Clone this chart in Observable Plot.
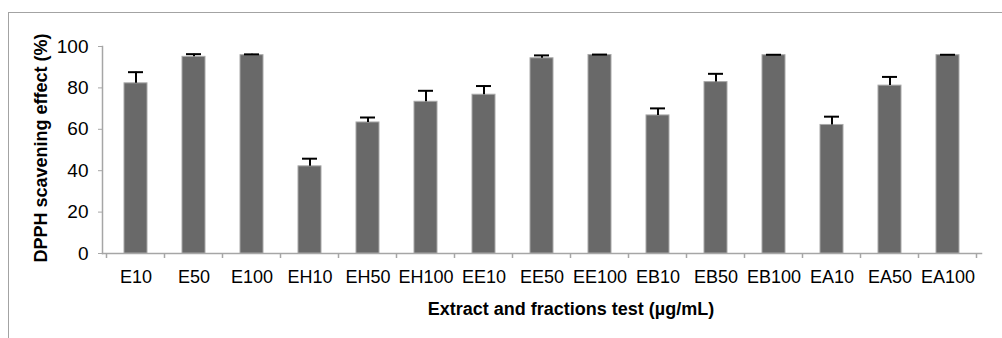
<!DOCTYPE html>
<html>
<head>
<meta charset="utf-8">
<script src="https://cdn.jsdelivr.net/npm/d3@7"></script>
<script src="https://cdn.jsdelivr.net/npm/@observablehq/plot@0.6"></script>
<style>
  html, body { margin: 0; padding: 0; background: #fff; }
  #wrap { position: relative; width: 1002px; height: 338px; overflow: hidden; }
  #border { position: absolute; left: 8px; top: 12px; width: 1100px; height: 400px;
            border-top: 1.5px solid #a3a3a3; border-left: 1.5px solid #a3a3a3; }
  #chart { position: absolute; left: 0; top: 0; }
  svg { font-family: "Liberation Sans", Arial, sans-serif; }
</style>
</head>
<body>
<div id="wrap"><div id="border"></div><div id="chart"></div></div>
<script>
const categories = ["E10","E50","E100","EH10","EH50","EH100","EE10","EE50","EE100","EB10","EB50","EB100","EA10","EA50","EA100"];
const values =     [82.2, 95.0, 95.8, 42.1, 63.3, 73.3, 76.7, 94.3, 95.9, 66.7, 82.8, 95.8, 62.1, 81.1, 95.8];
const errors =     [ 5.4,  1.3,  0.4,  3.7,  2.4,  5.3,  4.2,  1.4,  0.2,  3.4,  4.0,  0.2,  4.0,  4.2,  0.2];
const yTicks = [0, 20, 40, 60, 80, 100];
const xTitle = "Extract and fractions test (µg/mL)";
const yTitle = "DPPH scavening effect (%)";

const data = categories.map((c, i) => ({cat: c, v: values[i], e: errors[i], top: values[i] + errors[i]}));

const W = 1002, H = 338;
const mL = 102, mR = 21, mT = 46, mB = 85;
const axisGray = "#a6a6a6";

const chart = Plot.plot({
  width: W, height: H,
  marginLeft: mL, marginRight: mR, marginTop: mT, marginBottom: mB,
  style: {fontFamily: "'Liberation Sans', Arial, sans-serif", fontSize: "18px", color: "#000", background: "transparent", overflow: "visible"},
  x: {domain: categories, paddingInner: 0.6, paddingOuter: 0.3, align: 0.5, label: null},
  y: {domain: [0, 100], label: null},
  marks: [
    Plot.frame({anchor: "left", stroke: axisGray, strokeWidth: 1.5}),
    Plot.frame({anchor: "bottom", stroke: axisGray, strokeWidth: 1.5}),
    Plot.axisY({ticks: yTicks, tickSize: 4, tickPadding: 10, stroke: axisGray, fill: "#000", fontSize: 19, label: null}),
    Plot.axisX({tickSize: 0, tickPadding: 17, fill: "#000", fontSize: 18, label: null}),
    Plot.barY(data, {x: "cat", y: "v", fill: "#696969", stroke: "#a8a8a8", strokeWidth: 1}),
    Plot.ruleX(data, {x: "cat", y1: "v", y2: "top", stroke: "#000", strokeWidth: 2}),
    Plot.tickY(data, {x: "cat", y: "top", stroke: "#000", strokeWidth: 2, inset: 4}),
    Plot.text([xTitle], {frameAnchor: "bottom", dx: 29, dy: 56, lineAnchor: "middle", fontWeight: "bold", fontSize: 18, fill: "#000"}),
    Plot.text([yTitle], {frameAnchor: "left", rotate: -90, dx: -61, dy: -2, textAnchor: "middle", lineAnchor: "middle", fontWeight: "bold", fontSize: 18, fill: "#000"})
  ]
});

// category boundary tick marks on the x axis (Excel style), from the library's x scale
const sx = chart.scale("x");
const sy = chart.scale("y");
const step = sx.step;
const y0 = sy.apply(0);
const bounds = categories.map(c => sx.apply(c) - (step - sx.bandwidth) / 2);
bounds.push(bounds[bounds.length - 1] + step);
d3.select(chart).append("g")
  .attr("stroke", axisGray).attr("stroke-width", 1.5)
  .selectAll("line").data(bounds).join("line")
  .attr("x1", d => d).attr("x2", d => d)
  .attr("y1", y0).attr("y2", y0 + 5);

document.getElementById("chart").appendChild(chart);
</script>
</body>
</html>
